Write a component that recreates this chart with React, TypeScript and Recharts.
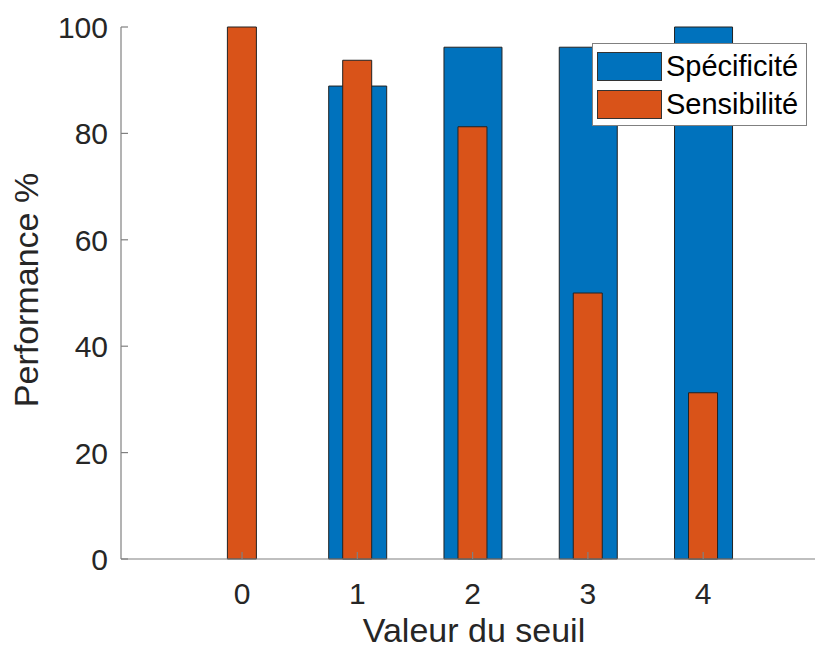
import React from "react";
import { BarChart, Bar, XAxis, YAxis, Legend } from "recharts";

const thresholds = [0, 1, 2, 3, 4];
const specificite = [0, 88.9, 96.2, 96.2, 100];
const sensibilite = [100, 93.75, 81.25, 50, 31.25];
const yTicks = [0, 20, 40, 60, 80, 100];

const BLUE = "#0072BD";
const ORANGE = "#D95319";
const AXIS = "#808080";
const TEXT = "#262626";
const FONT = "'Liberation Sans', Arial, Helvetica, sans-serif";

const data = thresholds.map((t, i) => ({
  seuil: t,
  spec: specificite[i],
  sens: sensibilite[i],
}));

function BottomTick({ x, y, payload }: any) {
  return (
    <g>
      <line x1={x} x2={x} y1={y} y2={y - 7} stroke={AXIS} strokeWidth={1.2} />
      <text x={x} y={y + 45} textAnchor="middle" fill={TEXT} fontSize={30} fontFamily={FONT}>
        {payload.value}
      </text>
    </g>
  );
}

function TopTick({ x, y }: any) {
  return <line x1={x} x2={x} y1={y} y2={y + 7} stroke={AXIS} strokeWidth={1.2} />;
}

function LeftTick({ x, y, payload }: any) {
  return (
    <g>
      <line x1={x} x2={x + 7} y1={y} y2={y} stroke={AXIS} strokeWidth={1.2} />
      <text x={x - 13} y={y + 11} textAnchor="end" fill={TEXT} fontSize={30} fontFamily={FONT}>
        {payload.value}
      </text>
    </g>
  );
}

function XLabel({ viewBox }: any) {
  return (
    <text
      x={viewBox.x + viewBox.width / 2 + 6}
      y={viewBox.y + viewBox.height - 8}
      textAnchor="middle"
      fill={TEXT}
      fontSize={34}
      fontFamily={FONT}
    >
      Valeur du seuil
    </text>
  );
}

const legendItems = [
  { label: "Spécificité", color: BLUE },
  { label: "Sensibilité", color: ORANGE },
];

function LegendBox() {
  return (
    <div
      style={{
        background: "#fff",
        border: `1px solid ${AXIS}`,
        width: 213,
        height: 81,
        boxSizing: "content-box",
        fontFamily: FONT,
        fontSize: 29,
        color: "#000",
      }}
    >
      {legendItems.map((it, i) => (
        <div
          key={it.label}
          style={{ display: "flex", alignItems: "center", marginLeft: 4, marginTop: i === 0 ? 8 : 9, height: 29 }}
        >
          <div
            style={{
              width: 63,
              height: 27,
              background: it.color,
              border: "1px solid #333",
              marginRight: 4,
            }}
          />
          <span style={{ lineHeight: "29px", whiteSpace: "nowrap" }}>{it.label}</span>
        </div>
      ))}
    </div>
  );
}

export default function App() {
  return (
    <div style={{ position: "fixed", left: 0, top: 0, width: 815, height: 650, overflow: "hidden", background: "#fff" }}>
      <BarChart
        width={815}
        height={650}
        data={data}
        margin={{ top: 27, right: 0, bottom: 0, left: 0 }}
      >
        <XAxis
          xAxisId="a"
          dataKey="seuil"
          type="number"
          domain={[-1.05, 4.97]}
          ticks={thresholds}
          allowDataOverflow
          height={91}
          tickSize={0}
          tickMargin={0}
          tickLine={false}
          axisLine={{ stroke: AXIS, strokeWidth: 1.2 }}
          tick={BottomTick}
          interval={0}
          label={{ content: XLabel }}
        />
        <XAxis
          xAxisId="b"
          dataKey="seuil"
          type="number"
          orientation="top"
          domain={[-1.05, 4.97]}
          ticks={thresholds}
          allowDataOverflow
          height={0}
          tickSize={0}
          tickMargin={0}
          tickLine={false}
          axisLine={{ stroke: AXIS, strokeWidth: 1.2 }}
          tick={TopTick}
          interval={0}
        />
        <YAxis
          type="number"
          domain={[0, 100]}
          ticks={yTicks}
          width={121}
          tickSize={0}
          tickMargin={0}
          tickLine={false}
          axisLine={{ stroke: AXIS, strokeWidth: 1.2 }}
          tick={LeftTick}
          interval={0}
          label={{
            value: "Performance %",
            angle: -90,
            position: "insideLeft",
            offset: 26,
            dy: -3,
            style: { textAnchor: "middle" },
            fill: TEXT,
            fontSize: 34,
            fontFamily: FONT,
          }}
        />
        <Legend
          layout="vertical"
          align="center"
          verticalAlign="middle"
          content={() => <LegendBox />}
          wrapperStyle={{ left: 592, top: 43, width: "auto", height: "auto" }}
        />
        <Bar
          xAxisId="a"
          dataKey="spec"
          name="Spécificité"
          fill={BLUE}
          stroke="#222"
          strokeWidth={1}
          barSize={58}
          isAnimationActive={false}
        />
        <Bar
          xAxisId="b"
          dataKey="sens"
          name="Sensibilité"
          fill={ORANGE}
          stroke="#222"
          strokeWidth={1}
          barSize={29}
          isAnimationActive={false}
        />
      </BarChart>
    </div>
  );
}
